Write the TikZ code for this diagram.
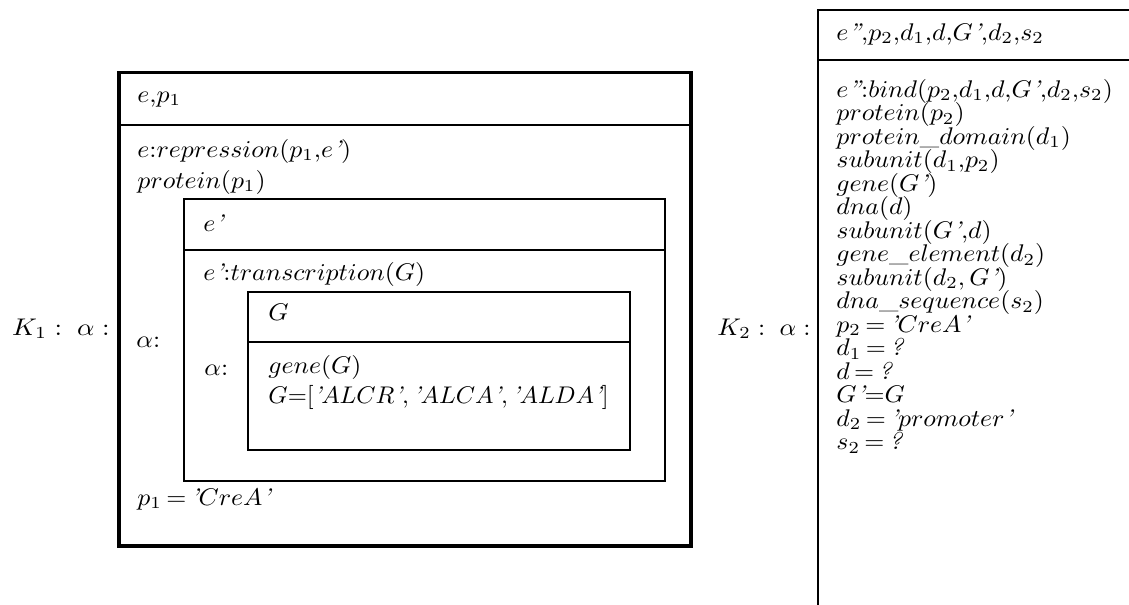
\documentclass[tikz,border=0pt]{standalone}
\usepackage{amsmath}
\usepackage{tikz}
\usetikzlibrary{positioning}

\newcommand{\ap}{\mbox{\itshape '}}
\newcommand{\dq}{\mbox{\itshape ''}}
\newcommand{\qm}{\mbox{\itshape ?}}
\newcommand{\us}{\mbox{\_}}
\newcommand{\cl}{\mbox{:}}
\newcommand{\cm}{\mbox{,}}
\newcommand{\wm}[2][1.07]{\scalebox{#1}[1]{$#2$}}

\begin{document}
\begin{tikzpicture}[
  x=0.415pt, y=-0.415pt,
  heavy/.style={draw, line width=1.25pt},
  medium/.style={draw, line width=0.9pt},
  light/.style={draw, line width=0.75pt},
  lbl/.style={anchor=mid west, inner sep=0pt},
  klbl/.style={anchor=mid east, inner sep=0pt},
]
  \useasboundingbox (0,0) rectangle (1129,605);
  \clip (0,0) rectangle (1129,605);

  % K_1 frame
  \draw[heavy] (119,73) rectangle (691,546);
  \draw[medium] (119,125) -- (691,125);
  \node[klbl] (k1) at (110,330) {\wm[1.12]{K_1:\;\alpha:}};
  \node[lbl] (h1) at (137,97) {\wm{e\cm p_1}};
  \node[lbl] (r1) at (137,152) {\wm{e\cl repression(p_1\cm e\ap)}};
  \node[lbl] (r2) at (137,183) {\wm{protein(p_1)}};
  \node[lbl] (a1) at (136,342) {\wm{\alpha\cl}};
  \node[lbl] (r3) at (137,500) {\wm{p_1\,{=}\,\ap CreA\ap}};

  % nested e'
  \draw[light] (184,199) rectangle (665,481);
  \draw[light] (184,250) -- (665,250);
  \node[lbl] (h2) at (203,226) {\wm{e\ap}};
  \node[lbl] (t1) at (203,275) {\wm{e\ap\cl transcription(G)}};
  \node[lbl] (a2) at (204,370) {\wm{\alpha\cl}};

  % nested G
  \draw[medium] (248,292) rectangle (630,450);
  \draw[medium] (248,342) -- (630,342);
  \node[lbl] (h3) at (268,315) {\wm{G}};
  \node[lbl] (g1) at (268,368) {\wm{gene(G)}};
  \node[lbl] (g2) at (268,398) {\wm[1.02]{G{=}[\ap ALCR\ap,\ap ALCA\ap,\ap ALDA\ap]}};

  % K_2 frame
  \draw[medium] (818,620) |- (1140,10);
  \draw[medium] (818,60) -- (1140,60);
  \node[klbl] (k2) at (811,330) {\wm{K_2:\;\alpha:}};
  \node[lbl] (h4) at (836,35) {\wm{e\dq\cm p_2\cm d_1\cm d\cm G\ap\cm d_2\cm s_2}};
  \foreach \txt [count=\i from 0] in {
      {e\dq\cl bind(p_2\cm d_1\cm d\cm G\ap\cm d_2\cm s_2)},
      {protein(p_2)},
      {protein\us domain(d_1)},
      {subunit(d_1\cm p_2)},
      {gene(G\ap)},
      {dna(d)},
      {subunit(G\ap\cm d)},
      {gene\us element(d_2)},
      {subunit(d_2,G\ap)},
      {dna\us sequence(s_2)},
      {p_2\,{=}\,\ap CreA\ap},
      {d_1\,{=}\,\qm},
      {d\,{=}\,\qm},
      {G\ap{=}G},
      {d_2\,{=}\,\ap promoter\ap},
      {s_2\,{=}\,\qm}}
    \node[lbl] (b\i) at (836,92+23.5*\i) {\wm{\txt}};
\end{tikzpicture}
\end{document}
